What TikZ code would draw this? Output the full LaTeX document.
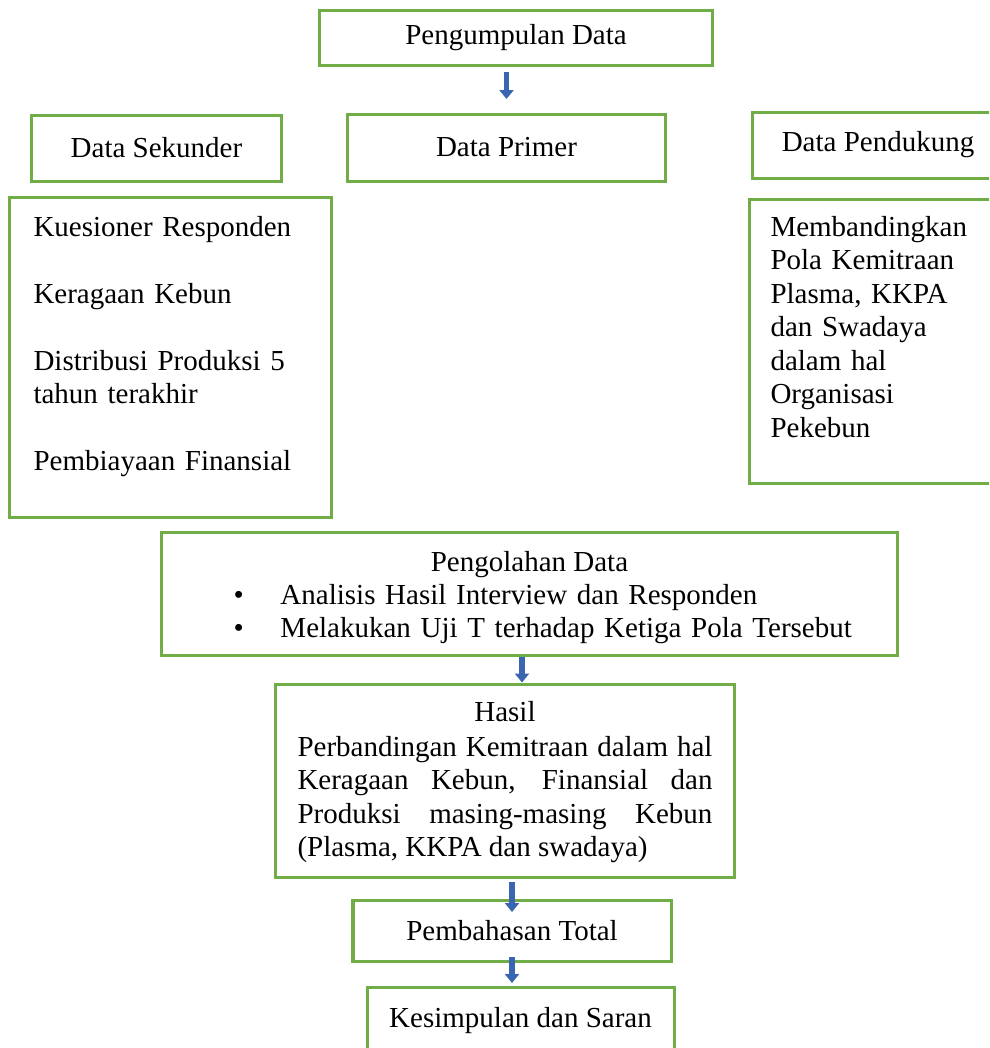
\documentclass[tikz,border=0pt]{standalone}
\usepackage{fontspec}
\setmainfont{Liberation Serif}
\usepackage{xcolor}
\usepackage{tikz}
\usetikzlibrary{arrows.meta,positioning}
\definecolor{boxgreen}{HTML}{70AD47}
\definecolor{arrblue}{HTML}{3A65B0}
\hyphenpenalty=10000

\begin{document}
\begin{tikzpicture}[x=0.4pt,y=-0.4pt,font=\fontsize{11.6}{13.4}\selectfont,
box/.style={draw=boxgreen,line width=1.2pt,inner sep=0pt},
txt/.style={inner sep=0pt,align=left},
arr/.style={-{Triangle[length=3.6pt,width=5.6pt]},line width=2.2pt,draw=arrblue}]
\clip (0,0) rectangle (989,1048);
% atas
\node[box,minimum width=156.8pt,minimum height=22pt] (kumpul) at (516,37.5) {Pengumpulan Data};
\node[box,minimum width=99.6pt,minimum height=26.4pt] (sekunder) at (156.5,148) {Data Sekunder};
\node[box,minimum width=126.8pt,minimum height=26.8pt] (primer) at (506.5,147.5) {Data Primer};
\node[box,minimum width=100.8pt,minimum height=26.4pt] (pendukung) at (878,145) {Data Pendukung};
% isi data
\node[box,minimum width=128.4pt,minimum height=128pt] (kuesioner) at (170.5,357) {};
\node[txt,text width=120pt,anchor=base west] (kuesionerisi) at (33,236)
  {Kuesioner Responden\\[13.4pt]Keragaan Kebun\\[13.4pt]Distribusi Produksi 5\\tahun terakhir\\[13.4pt]Pembiayaan Finansial};
\node[box,minimum width=105.2pt,minimum height=113.6pt] (banding) at (880.5,341) {};
\node[txt,text width=90pt,anchor=base west] (bandingisi) at (770,236)
  {Membandingkan\\Pola Kemitraan\\Plasma, KKPA\\dan Swadaya\\dalam hal\\Organisasi\\Pekebun};
% pengolahan
\node[box,minimum width=294pt,minimum height=49.2pt] (olah) at (529.5,593.5) {};
\node[inner sep=0pt,anchor=base] (olahjudul) at (529.5,571) {Pengolahan Data};
\node[txt,text width=250pt,anchor=base west] (olahisi) at (233,604)
  {\makebox[18.8pt][l]{\textbullet}Analisis Hasil Interview dan Responden\\
   \makebox[18.8pt][l]{\textbullet}Melakukan Uji T terhadap Ketiga Pola Tersebut};
% hasil
\node[box,minimum width=183.2pt,minimum height=77.2pt] (hasil) at (505,780.5) {};
\node[inner sep=0pt,anchor=base] (hasiljudul) at (505,721) {Hasil};
\node[txt,text width=166pt,align=justify,anchor=base west] (hasilisi) at (297,756)
  {Perbandingan Kemitraan dalam hal Keragaan Kebun, Finansial dan Produksi masing-masing Kebun (Plasma, KKPA dan swadaya)};
% bawah
\node[box,minimum width=127.2pt,minimum height=24.4pt] (bahas) at (512,930.5) {Pembahasan Total};
\node[box,minimum width=122.8pt,minimum height=27.2pt] (simpul) at (520.5,1021) {Kesimpulan dan Saran};
% panah
\draw[arr,shorten <=2.2pt,shorten >=5.4pt] (primer.north |- kumpul.south) -- (primer.north);
\draw[arr] ([xshift=-3pt]olah.south) -- ([xshift=-3pt]olah.south |- hasil.north);
\draw[arr,shorten <=1.4pt,shorten >=-5.4pt] (bahas.north |- hasil.south) -- (bahas.north);
\draw[arr,shorten <=-2.2pt,shorten >=1pt] (bahas.south) -- (bahas.south |- simpul.north);
\end{tikzpicture}
\end{document}
